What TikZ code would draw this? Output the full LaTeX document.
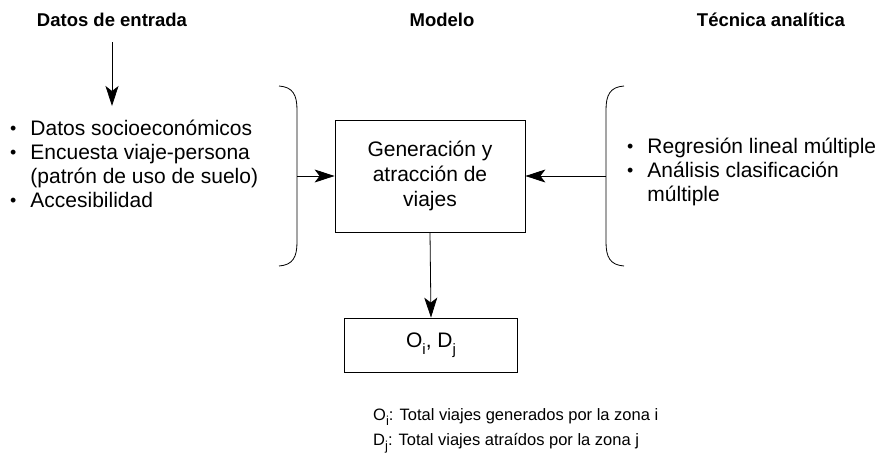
\documentclass[tikz,border=0pt]{standalone}
\usepackage{fontspec}
\setmainfont{Liberation Sans}
\usetikzlibrary{arrows.meta}

\newcommand{\subind}[2][13]{\raisebox{-0.32em}{\fontsize{#1}{#1}\selectfont #2}}
\newcommand{\vineta}{\raisebox{1pt}{\scalebox{0.85}{•}}}

\tikzset{
  flecha/.style={-{Stealth[length=20pt,width=13pt,inset=5pt]}, line width=0.8pt},
  caja/.style={draw, line width=0.8pt, align=center, inner sep=0pt,
    font=\fontsize{21}{25}\selectfont},
  titulo/.style={font=\fontsize{18.5}{22}\selectfont\bfseries},
  lista/.style={anchor=west, inner sep=0pt, font=\fontsize{21}{24}\selectfont},
  llave/.style={line width=0.8pt}
}

\begin{document}
\begin{tikzpicture}[x=1pt,y=-1pt]
\useasboundingbox (0,0) rectangle (884,472);

% titulos
\node[titulo] (datos) at (112,20) {Datos de entrada};
\node[titulo] (modelo) at (442,20) {Modelo};
\node[titulo] (tecnica) at (771,20) {Técnica analítica};
\coordinate (ent) at (112,42);
\coordinate (entfin) at (112,106);
\draw[flecha] (ent) -- (entfin);

% datos de entrada
\node[lista] (izq) at (10,167) {\begin{tabular}{@{}l@{\hspace{14pt}}l@{}}
  \vineta & Datos socioeconómicos\\
  \vineta & Encuesta viaje-persona\\
          & (patrón de uso de suelo)\\
  \vineta & Accesibilidad
\end{tabular}};
\draw[llave] (279,86) .. controls (293,87) and (297,95) .. (297,110)
  -- (297,242) .. controls (297,257) and (293,265) .. (279,266);
\coordinate (llaveizq) at (297,176);

% tecnica analitica
\node[lista] (der) at (627,173) {\begin{tabular}{@{}l@{\hspace{14pt}}l@{}}
  \vineta & Regresión lineal múltiple\\
  \vineta & Análisis clasificación\\
          & múltiple
\end{tabular}};
\draw[llave] (624,86) .. controls (610,87) and (606,95) .. (606,110)
  -- (606,242) .. controls (606,257) and (610,265) .. (624,266);
\coordinate (llaveder) at (606,176);

% modelo
\node[caja, minimum width=190pt, minimum height=112pt] (gen) at (430,176)
  {Generación y\\atracción de\\viajes};
\node[caja, minimum width=173pt, minimum height=54pt] (od) at (431,345)
  {O\subind[15]{i}, D\subind[15]{j}};
\draw[flecha] (llaveizq) -- (gen.west);
\draw[flecha] (llaveder) -- (gen.east);
\draw[flecha] (gen.south) -- (od.north);

% leyenda
\node[anchor=west, align=left, inner sep=0pt, font=\fontsize{16.5}{25}\selectfont] (ley) at (373,431)
  {O\subind{i}: Total viajes generados por la zona i\\
   D\subind{j}: Total viajes atraídos por la zona j};
\end{tikzpicture}
\end{document}
